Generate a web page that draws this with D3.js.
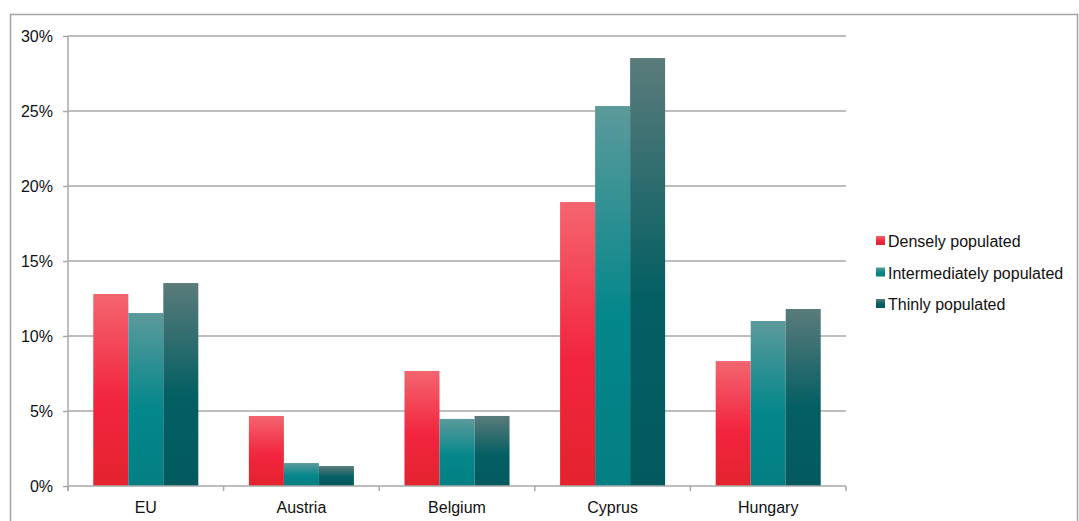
<!DOCTYPE html>
<html>
<head>
<meta charset="utf-8">
<script src="https://cdn.jsdelivr.net/npm/d3@7/dist/d3.min.js"></script>
<style>
  html, body { margin: 0; padding: 0; background: #fff; }
  svg { display: block; font-family: "Liberation Sans", Arial, sans-serif; }
</style>
</head>
<body>
<svg id="chart" width="1079" height="521"></svg>
<script>
// Share of population by degree of urbanisation
const categories = ["EU", "Austria", "Belgium", "Cyprus", "Hungary"];
const seriesNames = ["Densely populated", "Intermediately populated", "Thinly populated"];
const densely = [12.8, 4.67, 7.67, 18.93, 8.33];
const intermediately = [11.53, 1.53, 4.47, 25.33, 11.0];
const thinly = [13.53, 1.33, 4.67, 28.53, 11.8];
const yTicks = [0, 5, 10, 15, 20, 25, 30];

const seriesValues = [densely, intermediately, thinly];

// Vertical gradient stops per series (light top, saturated middle, deep bottom)
const gradStops = [
  ["#f4656f", "#f2253f", "#e4232e"],
  ["#5c9a9b", "#04878b", "#037f83"],
  ["#5b7b7b", "#045f63", "#035a5e"]
];

const svg = d3.select("#chart");
const margin = { left: 68, top: 36, right: 1079 - 846, bottom: 521 - 486 };
const W = 1079, H = 521;
const FONT = 16;

// Outer frame
svg.append("rect")
  .attr("x", 10.5).attr("y", 14.5)
  .attr("width", 1067).attr("height", 520)
  .attr("fill", "none").attr("stroke", "#a3a3a3").attr("stroke-width", 1.5);

const defs = svg.append("defs");
gradStops.forEach((s, i) => {
  const g = defs.append("linearGradient").attr("id", "grad" + i)
    .attr("x1", 0).attr("y1", 0).attr("x2", 0).attr("y2", 1);
  g.append("stop").attr("offset", "0%").attr("stop-color", s[0]);
  g.append("stop").attr("offset", "55%").attr("stop-color", s[1]);
  g.append("stop").attr("offset", "100%").attr("stop-color", s[2]);
});

const x0 = d3.scaleBand().domain(categories)
  .range([margin.left, W - margin.right]).paddingInner(0.325).paddingOuter(0.1625);
const x1 = d3.scaleBand().domain(d3.range(seriesNames.length))
  .range([0, x0.bandwidth()]);
const y = d3.scaleLinear().domain([0, 30]).range([H - margin.bottom, margin.top]);

// Horizontal gridlines
svg.append("g")
  .selectAll("line").data(yTicks.filter(d => d > 0)).join("line")
  .attr("x1", margin.left).attr("x2", W - margin.right)
  .attr("y1", d => y(d)).attr("y2", d => y(d))
  .attr("stroke", "#a9a9a9").attr("stroke-width", 1.5);

// Bars
const groups = svg.append("g").selectAll("g").data(categories).join("g")
  .attr("transform", d => `translate(${x0(d)},0)`);
groups.selectAll("rect")
  .data((c, ci) => seriesValues.map((vals, si) => ({ si, v: vals[ci] })))
  .join("rect")
  .attr("x", d => x1(d.si))
  .attr("width", x1.bandwidth())
  .attr("y", d => y(d.v))
  .attr("height", d => y(0) - y(d.v))
  .attr("fill", d => `url(#grad${d.si})`);

// Y axis
const yAxis = svg.append("g").attr("transform", `translate(${margin.left},0)`)
  .call(d3.axisLeft(y).tickValues(yTicks).tickFormat(d => d + "%").tickSize(5).tickPadding(10));
yAxis.select(".domain").attr("stroke", "#a9a9a9").attr("stroke-width", 1.5).attr("d", `M0,${y(30)}V${y(0) + 5}`);
yAxis.selectAll(".tick line").attr("stroke", "#a9a9a9").attr("stroke-width", 1.5);
yAxis.selectAll(".tick text").attr("font-size", FONT).attr("fill", "#111")
  .attr("font-family", "'Liberation Sans', Arial, sans-serif");

// X axis with category boundary ticks
const xAxisG = svg.append("g").attr("transform", `translate(0,${y(0)})`);
xAxisG.append("line")
  .attr("x1", margin.left).attr("x2", W - margin.right)
  .attr("stroke", "#a9a9a9").attr("stroke-width", 1.5);
const boundaries = categories.map(c => x0(c) - x0.step() * x0.paddingInner() / 2)
  .concat([W - margin.right]);
xAxisG.selectAll(".bt").data(boundaries).join("line").attr("class", "bt")
  .attr("x1", d => d).attr("x2", d => d).attr("y1", 0).attr("y2", 5)
  .attr("stroke", "#a9a9a9").attr("stroke-width", 1.5);
xAxisG.selectAll("text").data(categories).join("text")
  .attr("x", d => x0(d) + x0.bandwidth() / 2)
  .attr("y", 27)
  .attr("text-anchor", "middle")
  .attr("font-size", FONT).attr("fill", "#111")
  .text(d => d);

// Legend
const legend = svg.append("g").attr("transform", "translate(876,241)");
const li = legend.selectAll("g").data(seriesNames).join("g")
  .attr("transform", (d, i) => `translate(0,${i * 31.5})`);
li.append("rect").attr("x", 0).attr("y", -5).attr("width", 9).attr("height", 9)
  .attr("fill", (d, i) => `url(#grad${i})`);
li.append("text").attr("x", 12).attr("y", 6)
  .attr("font-size", FONT).attr("fill", "#111").text(d => d);
</script>
</body>
</html>
